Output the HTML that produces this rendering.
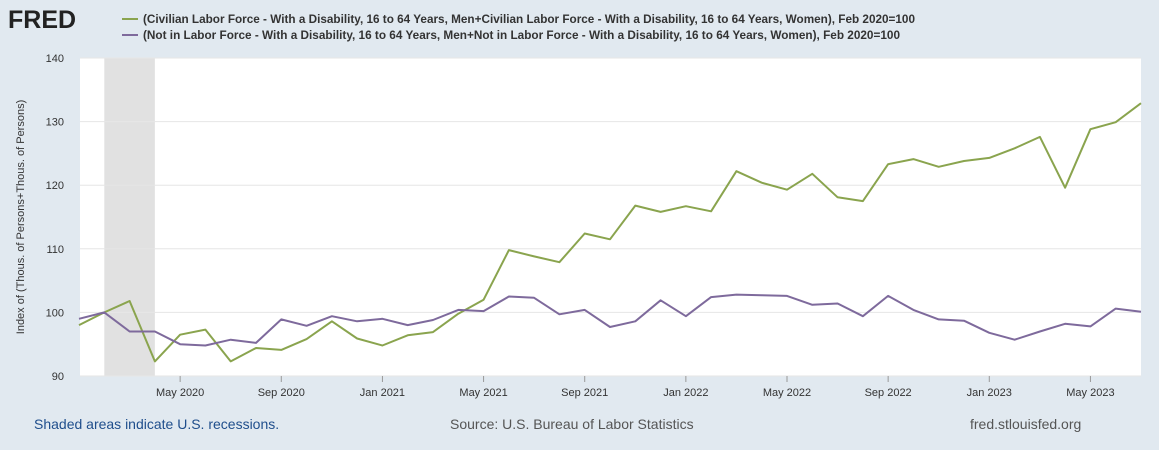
<!DOCTYPE html>
<html><head><meta charset="utf-8"><style>
body{margin:0;background:#e1e9f0;font-family:"Liberation Sans",sans-serif;}
#wrap{position:relative;width:1159px;height:450px;overflow:hidden;}
</style></head><body>
<div id="wrap">
<svg id="chart" width="1159" height="450" xmlns="http://www.w3.org/2000/svg">
<text x="8" y="28" font-size="25" font-weight="bold" fill="#222">FRED</text>
<g>
<line x1="122" y1="19" x2="138" y2="19" stroke="#8aa44e" stroke-width="2"/>
<text x="143" y="23" font-size="12" font-weight="bold" fill="#333" textLength="772" lengthAdjust="spacingAndGlyphs">(Civilian Labor Force - With a Disability, 16 to 64 Years, Men+Civilian Labor Force - With a Disability, 16 to 64 Years, Women), Feb 2020=100</text>
<line x1="122" y1="35" x2="138" y2="35" stroke="#7e6a9c" stroke-width="2"/>
<text x="143" y="39" font-size="12" font-weight="bold" fill="#333" textLength="757" lengthAdjust="spacingAndGlyphs">(Not in Labor Force - With a Disability, 16 to 64 Years, Men+Not in Labor Force - With a Disability, 16 to 64 Years, Women), Feb 2020=100</text>
</g>
<rect x="80" y="58" width="1061" height="318" fill="#fff"/>
<g id="grid"></g><g id="marks"></g><g id="axes"></g>
<text transform="translate(24,217) rotate(-90)" text-anchor="middle" font-size="11" fill="#333">Index of (Thous. of Persons+Thous. of Persons)</text>
<text x="34" y="429" font-size="14" fill="#1f4e8c">Shaded areas indicate U.S. recessions.</text>
<text x="450" y="429" font-size="14" fill="#555">Source: U.S. Bureau of Labor Statistics</text>
<text x="970" y="429" font-size="14" fill="#555">fred.stlouisfed.org</text>
</svg>
</div>
<script>
const laborForce=[98,100,101.8,92.3,96.5,97.3,92.3,94.4,94.1,95.8,98.6,95.9,94.8,96.4,96.9,99.8,102,109.8,108.8,107.9,112.4,111.5,116.8,115.8,116.7,115.9,122.2,120.4,119.3,121.8,118.1,117.5,123.3,124.1,122.9,123.8,124.3,125.8,127.6,119.6,128.8,129.9,132.9];
const notInLaborForce=[99,100,97,97,95,94.8,95.7,95.2,98.9,97.9,99.4,98.6,99,98,98.8,100.4,100.2,102.5,102.3,99.7,100.4,97.7,98.6,101.9,99.4,102.4,102.8,102.7,102.6,101.2,101.4,99.4,102.6,100.4,98.9,98.7,96.8,95.7,97,98.2,97.8,100.6,100.1];
const yTicks=[90,100,110,120,130,140];
const xTickIdx=[4,8,12,16,20,24,28,32,36,40];
const xTickLabels=["May 2020","Sep 2020","Jan 2021","May 2021","Sep 2021","Jan 2022","May 2022","Sep 2022","Jan 2023","May 2023"];
const recession=[1,3];
const NS="http://www.w3.org/2000/svg";
const X0=79,X1=1141,Y0=376,Y1=58;
const n=laborForce.length;
function x(i){return X0+(X1-X0)*i/(n-1);}
function y(v){return Y0-(v-90)/(140-90)*(Y0-Y1);}
function mk(t,a,p){const e=document.createElementNS(NS,t);for(const k in a)e.setAttribute(k,a[k]);p.appendChild(e);return e;}
const grid=document.getElementById('grid'),marks=document.getElementById('marks'),axes=document.getElementById('axes');
const rr=mk('rect',{x:x(recession[0]),y:Y1,width:x(recession[1])-x(recession[0]),height:Y0-Y1,fill:'#e1e1e1'},grid);


yTicks.forEach(v=>{
 const l=mk('line',{x1:80,x2:1141,y1:y(v),y2:y(v),stroke:'#e6e6e6'},grid);
 
 
 const t=mk('text',{x:64,y:y(v)+4,'text-anchor':'end','font-size':11,fill:'#333'},axes);
 t.textContent=v;
 
 
});
xTickIdx.forEach((idx,k)=>{
 const l=mk('line',{x1:x(idx),x2:x(idx),y1:376,y2:382,stroke:'#999'},axes);
 
 
 const t=mk('text',{x:x(idx),y:396,'text-anchor':'middle','font-size':11,fill:'#333'},axes);
 t.textContent=xTickLabels[k];
 
 
});
function line(data,col,name){
 const p=mk('polyline',{points:data.map((v,i)=>x(i).toFixed(1)+','+y(v).toFixed(1)).join(' '),fill:'none',stroke:col,'stroke-width':2,'stroke-linejoin':'round'},marks);
 
 
}
line(laborForce,'#8aa44e','labor-force-line');
line(notInLaborForce,'#7e6a9c','not-in-labor-force-line');
</script>
</body></html>
